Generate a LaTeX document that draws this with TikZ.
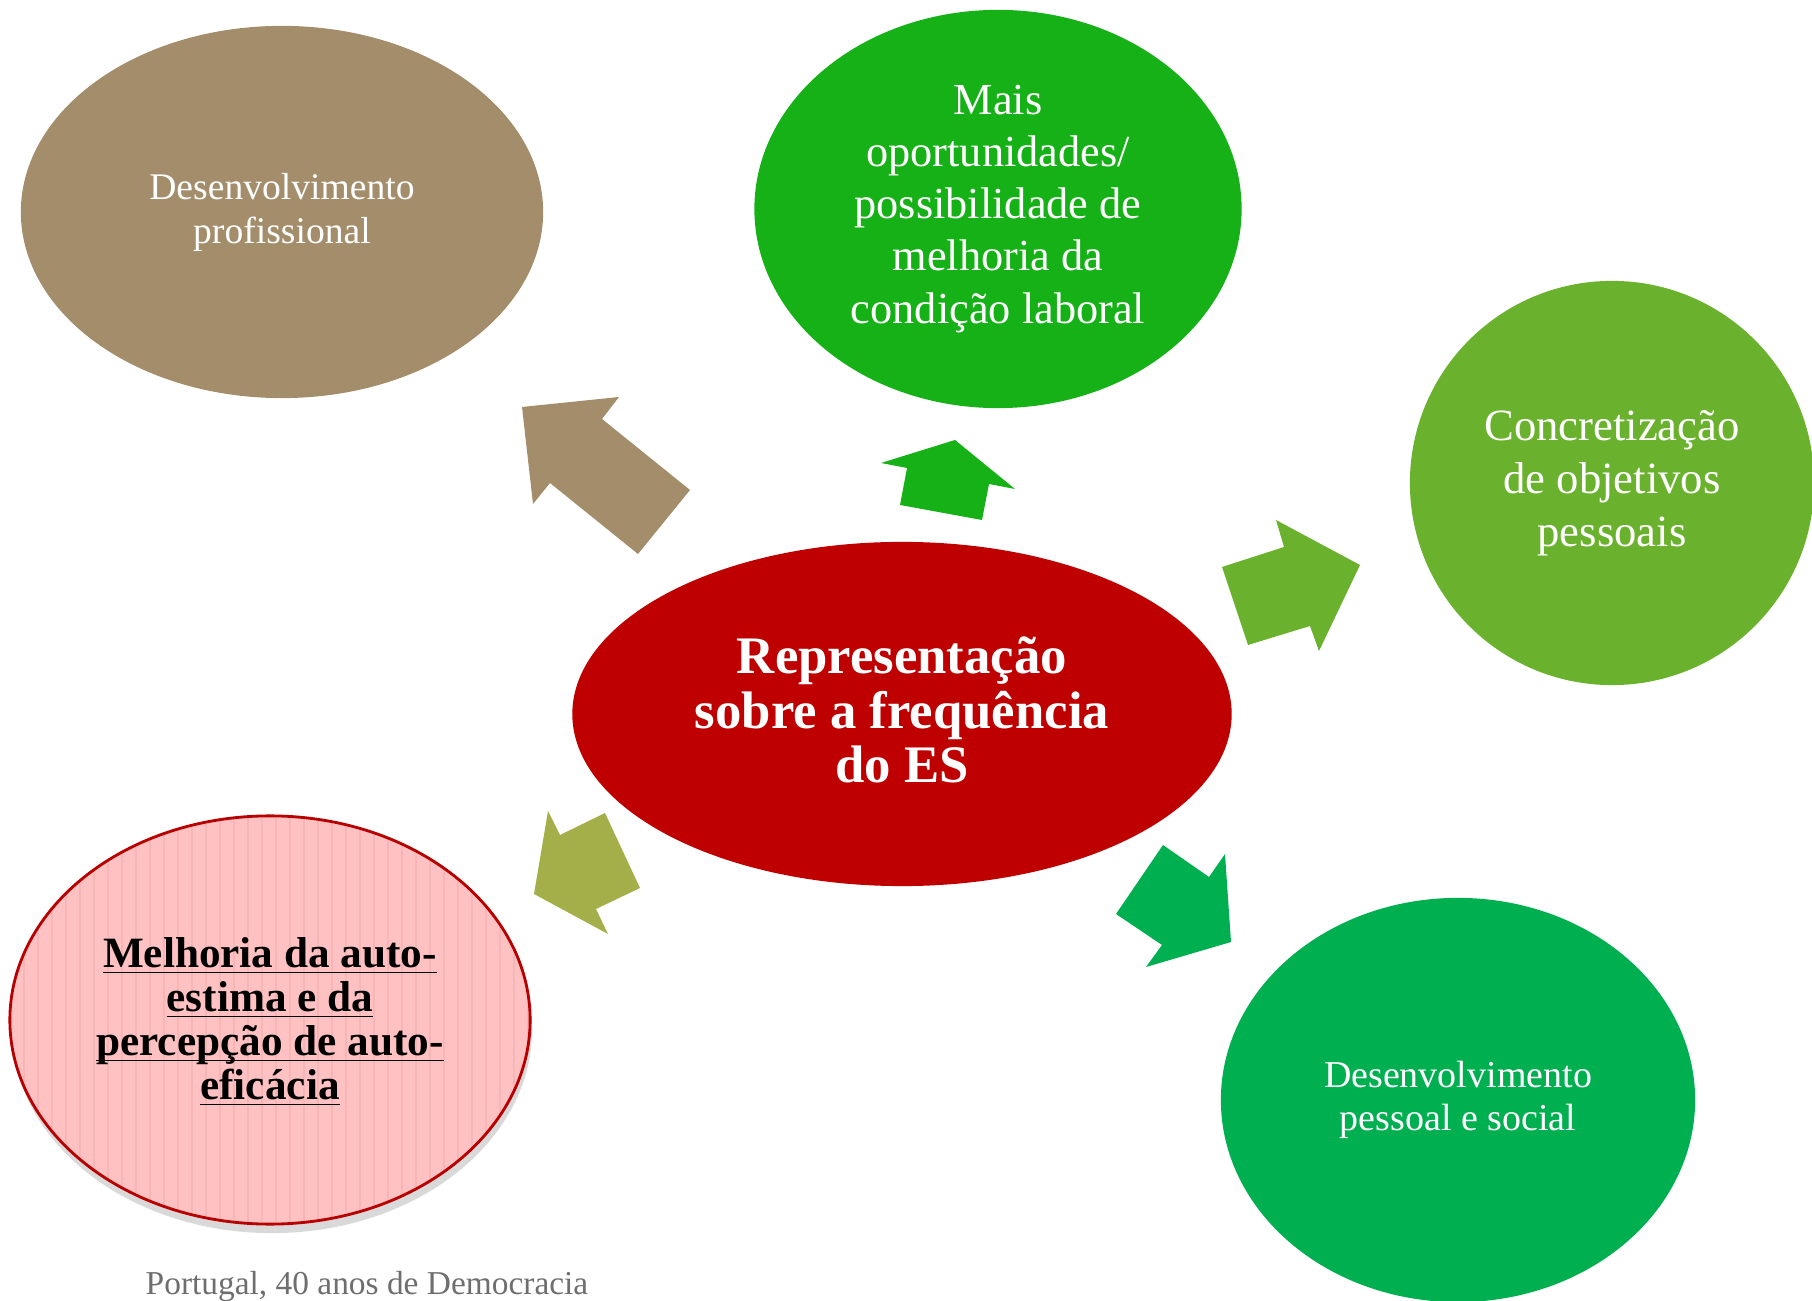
\documentclass[tikz,border=0pt]{standalone}
\usepackage{fontspec}
\setmainfont{Liberation Serif}
\usetikzlibrary{shapes.geometric,shadows,calc}

\definecolor{brownbub}{HTML}{A38D6B}
\definecolor{greentop}{HTML}{15B117}
\definecolor{greenright}{HTML}{6AB22E}
\definecolor{greenlow}{HTML}{00AF50}
\definecolor{redcentre}{HTML}{BE0000}
\definecolor{olivearr}{HTML}{A5AF4A}
\definecolor{pinkbub}{HTML}{FFC1C1}
\definecolor{pinkstripe}{HTML}{F6B6B6}
\definecolor{pinkedge}{HTML}{B80000}
\definecolor{footgray}{HTML}{6E6E6E}

\begin{document}
\begin{tikzpicture}[x=0.01cm,y=-0.01cm,
		bubble/.style={ellipse, inner sep=0pt, align=center, text=white},
		stripe/.style={pinkstripe, line width=0.5pt}]
		\newcommand{\myfontsmall}{\fontsize{10.7}{12.5}\selectfont}
		\newcommand{\myfontmid}{\fontsize{12.6}{14.8}\selectfont}
		\newcommand{\myfontcentre}{\fontsize{15}{15.6}\selectfont\bfseries}
		\newcommand{\myfontpink}{\fontsize{12.3}{12.5}\selectfont\bfseries}
		\newcommand{\myul}[1]{\underline{\smash{#1}\vphantom{M}}}
		%Page frame
		\clip (0,0) rectangle (1812,1301);
		%Centre bubble
		\node [bubble, fill=redcentre, minimum width=6.59cm, minimum height=3.44cm] (centre) at (902,714) {};
		%Outer bubbles
		\node [bubble, fill=brownbub, minimum width=5.22cm, minimum height=3.72cm, font=\myfontsmall] (prof) at (282,212) {Desenvolvimento\\profissional};
		\node [bubble, fill=greentop, minimum width=4.87cm, minimum height=3.98cm, font=\myfontmid] (oport) at (998,209) {Mais\\oportunidades/\\possibilidade de\\melhoria da\\condição laboral};
		\node [bubble, fill=greenright, minimum width=4.04cm, minimum height=4.04cm, font=\fontsize{12.7}{15}\selectfont] (objet) at (1612,483) {Concretização\\de objetivos\\pessoais};
		\node [bubble, fill=greenlow, minimum width=4.74cm, minimum height=4.04cm, font=\fontsize{10.8}{12.2}\selectfont] (pessoal) at (1458,1100) {Desenvolvimento\\pessoal e social};
		%Pink bubble with stripes and shadow
		\node [bubble, fill=pinkbub, draw=pinkedge, line width=0.8pt,
			minimum width=5.2cm, minimum height=4.08cm,
			drop shadow={opacity=0.3, shadow xshift=0.02cm, shadow yshift=-0.09cm},
			path picture={\foreach \sx in {0,...,37}{\draw [stripe] ($(path picture bounding box.north west)+(\sx*14,0)$) -- ++(0,420);}}]
			(estima) at (270,1020) {};
		%Texts, a bit shifted from the bubble centres
		\path (centre.center) ++(0,-4) node [align=center, text=white, font=\myfontcentre] (centretext) {Representação\\sobre a frequência\\do ES};
		\path (estima.center) ++(0,3) node [align=center, text=black, font=\myfontpink] (estimatext) {\myul{Melhoria da auto-}\\\myul{estima e da}\\\myul{percepção de auto-}\\\myul{eficácia}};
		%Block arrows out of the centre
		%to the brown bubble
		\fill [brownbub] (522,407) -- (619,397) -- (602,419) -- (690,490) -- (638,554) -- (550,483) -- (533,504) -- cycle;
		%to the top bubble
		\fill [greentop] (955,440) -- (1015,489) -- (989,484) -- (982,520) -- (900,505) -- (907,468) -- (881,463) -- cycle;
		%to the right bubble
		\fill [greenright] (1360,565) -- (1319,651) -- (1310,626) -- (1248,645) -- (1222,567) -- (1284,547) -- (1276,520) -- cycle;
		%to the lower right bubble
		\fill [greenlow] (1231,942) -- (1146,967) -- (1162,945) -- (1116,914) -- (1163,845) -- (1209,877) -- (1225,854) -- cycle;
		%to the pink bubble
		\fill [olivearr] (534,894) -- (548,811) -- (560,835) -- (605,813) -- (640,888) -- (596,909) -- (608,934) -- cycle;
		%Footer
		\node [anchor=base, text=footgray, font=\fontsize{9.5}{11}\selectfont] (foot) at (367,1294) {Portugal, 40 anos de Democracia};
\end{tikzpicture}
\end{document}
